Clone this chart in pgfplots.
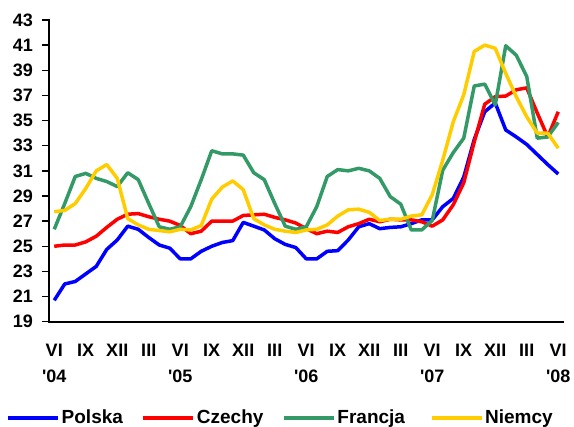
\documentclass[border=0pt]{standalone}
\usepackage{fontspec}
\setmainfont{Liberation Sans}[Ligatures=TeXOff]
\usepackage{pgfplots}
\usepackage{pgfplotstable}
\pgfplotsset{compat=1.18}

\definecolor{cpol}{RGB}{0,0,255}
\definecolor{ccze}{RGB}{255,0,0}
\definecolor{cfra}{RGB}{51,153,102}
\definecolor{cnie}{RGB}{255,204,0}

% months from VI 2004 (0) to VI 2008 (48)
\pgfplotstableread{
x  pol   cze   fra   nie
0  20.7  25.0  26.35 27.75
1  22.0  25.1  28.4  27.85
2  22.2  25.1  30.55 28.4
3  22.8  25.35 30.8  29.6
4  23.4  25.8  30.4  31.0
5  24.75 26.5  30.15 31.5
6  25.5  27.15 29.75 30.4
7  26.6  27.55 30.85 27.2
8  26.35 27.6  30.3  26.7
9  25.7  27.35 28.4  26.35
10 25.1  27.15 26.55 26.25
11 24.85 27.0  26.35 26.15
12 24.0  26.65 26.55 26.35
13 24.0  26.0  28.15 26.3
14 24.6  26.2  30.3  26.65
15 25.0  27.0  32.6  28.75
16 25.3  27.0  32.35 29.7
17 25.45 27.0  32.35 30.2
18 26.9  27.45 32.25 29.5
19 26.6  27.5  30.85 27.2
20 26.3  27.55 30.3  26.7
21 25.6  27.3  28.4  26.35
22 25.15 27.1  26.6  26.2
23 24.9  26.85 26.35 26.1
24 24.0  26.4  26.55 26.3
25 24.0  26.0  28.15 26.35
26 24.6  26.2  30.55 26.7
27 24.65 26.1  31.1  27.4
28 25.5  26.55 31.0  27.9
29 26.55 26.8  31.2  27.95
30 26.8  27.15 31.0  27.7
31 26.4  26.95 30.4  27.05
32 26.5  27.15 28.95 27.15
33 26.55 27.1  28.35 27.15
34 26.8  27.1  26.3  27.4
35 27.1  26.95 26.3  27.5
36 27.1  26.6  27.05 29.1
37 28.15 27.1  31.05 31.85
38 28.8  28.3  32.45 34.9
39 30.5  30.05 33.6  37.05
40 33.5  33.3  37.75 40.5
41 35.7  36.3  37.9  41.0
42 36.4  36.9  36.25 40.75
43 34.25 36.95 40.95 38.75
44 33.7  37.45 40.2  36.9
45 33.1  37.6  38.5  35.3
46 32.3  35.6  33.6  34.0
47 31.5  33.7  33.7  34.0
48 30.75 35.7  34.85 32.8
}\prices

\begin{document}
\begin{tikzpicture}
\begin{axis}[
    scale only axis,
    width=514.5pt, height=301.7pt,
    xmin=-0.5, xmax=48.5,
    ymin=19, ymax=43,
    axis x line*=bottom,
    axis y line*=left,
    axis line style={line width=2pt, line cap=rect},
    tick align=outside,
    major tick length=7pt,
    minor tick length=5pt,
    every tick/.style={black, line width=1.5pt},
    ytick={19,21,...,43},
    xtick=\empty,
    minor xtick={-0.5,0.5,...,48.5},
    extra x ticks={0,3,...,48},
    extra x tick labels={{VI\\'04},IX,XII,III,{VI\\'05},IX,XII,III,{VI\\'06},IX,XII,III,{VI\\'07},IX,XII,III,{VI\\'08}},
    extra x tick style={major tick length=0pt},
    /pgf/number format/assume math mode=true,
    ticklabel style={font=\fontsize{18}{26}\selectfont\bfseries},
    yticklabel style={inner sep=0pt, xshift=-9pt},
    xticklabel style={align=center, inner sep=0pt, yshift=-22pt},
    legend columns=4,
    legend style={draw=none, fill=none, at={(rel axis cs:0,0)}, anchor=west,
        xshift=-43pt, yshift=-96pt, inner sep=0pt,
        font=\fontsize{19}{22}\selectfont\bfseries,
        nodes={inner sep=1.5pt},
        /tikz/column 2/.style={column sep=17pt},
        /tikz/column 4/.style={column sep=17pt},
        /tikz/column 6/.style={column sep=23pt}},
    legend image code/.code={\draw[#1, line width=4pt] (0pt,0pt) -- (50pt,0pt);},
    every axis plot/.append style={line width=3.5pt, line join=round, mark=none},
]
\addplot[cpol] table[x=x, y=pol] {\prices};
\addlegendentry{Polska}
\addplot[ccze] table[x=x, y=cze] {\prices};
\addlegendentry{Czechy}
\addplot[cfra] table[x=x, y=fra] {\prices};
\addlegendentry{Francja}
\addplot[cnie] table[x=x, y=nie] {\prices};
\addlegendentry{Niemcy}
\end{axis}
\path (current axis.south west) ++(-49pt,-105.3pt) rectangle ++(574pt,427pt);
\end{tikzpicture}
\end{document}
